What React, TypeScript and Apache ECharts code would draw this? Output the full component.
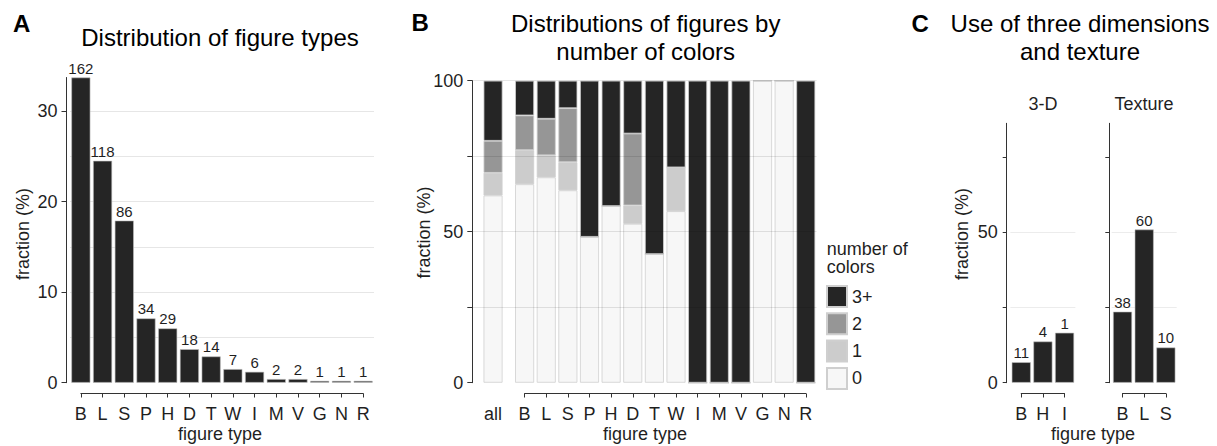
import React, { useEffect, useRef } from "react";
import * as echarts from "echarts";

// ---------- data ----------
const figureTypes = ["B", "L", "S", "P", "H", "D", "T", "W", "I", "M", "V", "G", "N", "R"];
const typeFractions = [33.7, 24.5, 17.9, 7.1, 6.0, 3.7, 2.9, 1.5, 1.2, 0.4, 0.4, 0.2, 0.2, 0.2];
const typeCounts = [162, 118, 86, 34, 29, 18, 14, 7, 6, 2, 2, 1, 1, 1];

// index 0 = "all", 1..14 = figureTypes
const overallLabel = ["all"];
const colorLevels = ["0", "1", "2", "3+"];
const zeroColorPct = [62.0, 65.7, 68.0, 63.7, 48.3, 58.5, 52.6, 42.6, 56.8, 0, 0, 0, 100, 100, 0];
const oneColorPct = [7.5, 11.3, 7.3, 9.3, 0, 0, 6.1, 0, 14.5, 0, 0, 0, 0, 0, 0];
const twoColorPct = [10.6, 11.5, 12.1, 17.9, 0, 0, 23.8, 0, 0, 0, 0, 0, 0, 0, 0];
const threePlusColorPct = [19.9, 11.5, 12.6, 9.1, 51.7, 41.5, 17.5, 57.4, 28.7, 100, 100, 100, 0, 0, 100];

const threeDTypes = ["B", "H", "I"];
const threeDPct = [6.8, 13.7, 16.6];
const threeDCounts = [11, 4, 1];
const textureTypes = ["B", "L", "S"];
const texturePct = [23.6, 50.9, 11.7];
const textureCounts = [38, 60, 10];

// ---------- style ----------
const FONT = '"Liberation Sans", Arial, Helvetica, sans-serif';
const INK = "#1f1f1f";
const AXIS = "#333333";
const levelColors: Record<string, string> = { "0": "#f7f7f7", "1": "#cccccc", "2": "#969696", "3+": "#252525" };
const BAR_W = 19;
const BASE_Y = 382.7; // pixel of value 0
const BRACKET_Y = 393.5;
const TICK_FONT = 18;

function bracketAxis(gridIndex: number, data: string[]) {
  return {
    type: "category",
    gridIndex,
    data,
    boundaryGap: false,
    axisLine: { show: true, onZero: false, lineStyle: { color: AXIS, width: 1 } },
    axisTick: { show: true, length: 4, interval: 0, lineStyle: { color: AXIS } },
    axisLabel: { interval: 0, fontSize: TICK_FONT, color: INK, margin: 11, fontFamily: FONT },
    splitLine: { show: false },
  };
}
function hiddenX(gridIndex: number, data: string[]) {
  return { type: "category", gridIndex, data, show: false };
}
function hiddenY(gridIndex: number) {
  return { type: "value", gridIndex, show: false, min: 0, max: 1 };
}
function countLabel(counts: number[]) {
  return {
    show: true,
    position: "top",
    distance: 2,
    fontSize: 15,
    color: INK,
    fontFamily: FONT,
    formatter: (p: any) => String(counts[p.dataIndex]),
  };
}
const darkBar = { color: "#252525", borderColor: "#bdbdbd", borderWidth: 0.6 };

function text(x: number, y: number, t: string, opts: any = {}) {
  return {
    type: "text",
    x,
    y,
    rotation: opts.rotation || 0,
    style: {
      text: t,
      fontFamily: FONT,
      fontSize: opts.size || 18,
      fontWeight: opts.weight || "normal",
      fill: opts.fill || INK,
      align: opts.align || "center",
      verticalAlign: "middle",
      lineHeight: opts.lineHeight,
    },
  };
}

export default function App() {
  const ref = useRef<HTMLDivElement>(null);
  useEffect(() => {
    if (!ref.current) return;
    const chart = echarts.init(ref.current, null, { renderer: "svg" });

    const gridA = { left: 70, top: 77.5, width: 304, height: BASE_Y - 77.5 };
    const bracketA = { left: 80.86, top: 300, width: 282.3, height: BRACKET_Y - 300 };
    const gridB1 = { left: 472.3, top: 80.7, width: 41.5, height: BASE_Y - 80.7 };
    const gridB2 = { left: 513.8, top: 80.7, width: 302.8, height: BASE_Y - 80.7 };
    const bracketB = { left: 524.6, top: 300, width: 281.2, height: BRACKET_Y - 300 };
    const gridC1 = { left: 1010.4, top: 123.3, width: 65, height: BASE_Y - 123.3 };
    const bracketC1 = { left: 1021.2, top: 300, width: 43.3, height: BRACKET_Y - 300 };
    const gridC2 = { left: 1111.7, top: 123.3, width: 65, height: BASE_Y - 123.3 };
    const bracketC2 = { left: 1122.5, top: 300, width: 43.3, height: BRACKET_Y - 300 };

    const typeIdx = figureTypes.map((_, i) => i + 1);
    const levelData: Record<string, number[]> = {
      "0": zeroColorPct,
      "1": oneColorPct,
      "2": twoColorPct,
      "3+": threePlusColorPct,
    };

    const bSeries: any[] = [];
    colorLevels.forEach((lvl) => {
      const style = { color: levelColors[lvl], borderColor: "#cfcfcf", borderWidth: 0.8 };
      bSeries.push({
        type: "bar",
        name: lvl,
        xAxisIndex: 2,
        yAxisIndex: 2,
        stack: "all",
        barWidth: BAR_W,
        itemStyle: style,
        data: [levelData[lvl][0]],
      });
      bSeries.push({
        type: "bar",
        name: lvl,
        xAxisIndex: 3,
        yAxisIndex: 3,
        stack: "types",
        barWidth: BAR_W,
        itemStyle: style,
        data: typeIdx.map((i) => levelData[lvl][i]),
      });
    });

    const option: any = {
      animation: false,
      textStyle: { fontFamily: FONT },
      grid: [gridA, bracketA, gridB1, gridB2, bracketB, gridC1, bracketC1, gridC2, bracketC2],
      xAxis: [
        hiddenX(0, figureTypes),
        bracketAxis(1, figureTypes),
        {
          type: "category",
          gridIndex: 2,
          data: overallLabel,
          offset: BRACKET_Y - BASE_Y,
          axisLine: { show: false },
          axisTick: { show: false },
          axisLabel: { fontSize: TICK_FONT, color: INK, margin: 11, fontFamily: FONT },
          splitLine: { show: false },
        },
        hiddenX(3, figureTypes),
        bracketAxis(4, figureTypes),
        hiddenX(5, threeDTypes),
        bracketAxis(6, threeDTypes),
        hiddenX(7, textureTypes),
        bracketAxis(8, textureTypes),
      ],
      yAxis: [
        {
          type: "value",
          gridIndex: 0,
          min: 0,
          max: 33.7,
          interval: 10,
          offset: 3.5,
          axisLine: { show: true, lineStyle: { color: AXIS } },
          axisTick: { show: true, length: 5, lineStyle: { color: AXIS }, customValues: [0, 10, 20, 30] },
          axisLabel: {
            fontSize: TICK_FONT,
            color: INK,
            margin: 9,
            fontFamily: FONT,
            customValues: [0, 10, 20, 30],
          },
          splitLine: { show: false },
        },
        hiddenY(1),
        {
          type: "value",
          gridIndex: 2,
          min: 0,
          max: 100,
          interval: 25,
          z: 5,
          axisLine: { show: true, lineStyle: { color: AXIS } },
          axisTick: { show: true, length: 5, lineStyle: { color: AXIS } },
          axisLabel: {
            fontSize: TICK_FONT,
            color: INK,
            margin: 9,
            fontFamily: FONT,
            formatter: (v: number) => (v % 50 === 0 ? String(v) : ""),
          },
          splitLine: { show: true, showMinLine: false, lineStyle: { color: "rgba(0,0,0,0.1)" } },
        },
        {
          type: "value",
          gridIndex: 3,
          min: 0,
          max: 100,
          interval: 25,
          z: 5,
          axisLine: { show: false },
          axisTick: { show: false },
          axisLabel: { show: false },
          splitLine: { show: true, showMinLine: false, lineStyle: { color: "rgba(0,0,0,0.1)" } },
        },
        hiddenY(4),
        {
          type: "value",
          gridIndex: 5,
          min: 0,
          max: 86.2,
          interval: 25,
          offset: 3.7,
          axisLine: { show: true, lineStyle: { color: AXIS } },
          axisTick: { show: true, length: 4, lineStyle: { color: AXIS }, customValues: [0, 25, 50, 75] },
          axisLabel: {
            fontSize: TICK_FONT,
            color: INK,
            margin: 9,
            fontFamily: FONT,
            customValues: [0, 50],
          },
          splitLine: { show: true, showMaxLine: false, showMinLine: false, lineStyle: { color: "#ececec" } },
        },
        hiddenY(6),
        {
          type: "value",
          gridIndex: 7,
          min: 0,
          max: 86.2,
          interval: 25,
          offset: 2.4,
          axisLine: { show: true, lineStyle: { color: AXIS } },
          axisTick: { show: true, length: 4, lineStyle: { color: AXIS }, customValues: [0, 25, 50, 75] },
          axisLabel: { show: false },
          splitLine: { show: true, showMaxLine: false, showMinLine: false, lineStyle: { color: "#ececec" } },
        },
        hiddenY(8),
        // panel A gridlines every 5 (no ticks)
        {
          type: "value",
          gridIndex: 0,
          min: 0,
          max: 33.7,
          interval: 5,
          position: "left",
          axisLine: { show: false },
          axisTick: { show: false },
          axisLabel: { show: false },
          splitLine: { show: true, showMaxLine: false, showMinLine: false, lineStyle: { color: "#e6e6e6" } },
        },
      ],
      legend: {
        data: ["3+", "2", "1", "0"],
        orient: "vertical",
        left: 826,
        top: 285,
        itemWidth: 20,
        itemHeight: 21,
        itemGap: 4.3,
        padding: 0,
        icon: "rect",
        selectedMode: false,
        textStyle: { fontSize: 18, color: INK, fontFamily: FONT },
      },
      series: [
        {
          type: "bar",
          name: "figure types",
          xAxisIndex: 0,
          yAxisIndex: 0,
          barWidth: BAR_W,
          itemStyle: darkBar,
          label: countLabel(typeCounts),
          data: typeFractions,
        },
        ...bSeries,
        {
          type: "bar",
          name: "3-D",
          xAxisIndex: 5,
          yAxisIndex: 5,
          barWidth: BAR_W,
          itemStyle: darkBar,
          label: countLabel(threeDCounts),
          data: threeDPct,
        },
        {
          type: "bar",
          name: "Texture",
          xAxisIndex: 7,
          yAxisIndex: 7,
          barWidth: BAR_W,
          itemStyle: darkBar,
          label: countLabel(textureCounts),
          data: texturePct,
        },
      ],
      graphic: [
        text(13, 23.5, "A", { size: 24, weight: "bold", align: "left", fill: "#000" }),
        text(411.5, 22, "B", { size: 24, weight: "bold", align: "left", fill: "#000" }),
        text(911.5, 23.5, "C", { size: 24, weight: "bold", align: "left", fill: "#000" }),
        text(220, 37, "Distribution of figure types", { size: 24, fill: "#000" }),
        text(645.7, 37.5, "Distributions of figures by\nnumber of colors", { size: 24, lineHeight: 28, fill: "#000" }),
        text(1080, 37.5, "Use of three dimensions\nand texture", { size: 24, lineHeight: 28, fill: "#000" }),
        text(23.3, 234, "fraction (%)", { rotation: Math.PI / 2 }),
        text(424, 232.5, "fraction (%)", { rotation: Math.PI / 2 }),
        text(961.7, 234, "fraction (%)", { rotation: Math.PI / 2 }),
        text(220, 434, "figure type"),
        text(645, 434, "figure type"),
        text(1093, 434, "figure type"),
        text(1043, 104, "3-D", { size: 18 }),
        text(1144, 104, "Texture", { size: 18 }),
        text(826.7, 249, "number of", { align: "left" }),
        text(826.7, 267, "colors", { align: "left" }),
      ],
    };

    chart.setOption(option);
    return () => chart.dispose();
  }, []);

  return (
    <div
      ref={ref}
      style={{ position: "fixed", left: 0, top: 0, width: 1217, height: 446, background: "#fff" }}
    />
  );
}
